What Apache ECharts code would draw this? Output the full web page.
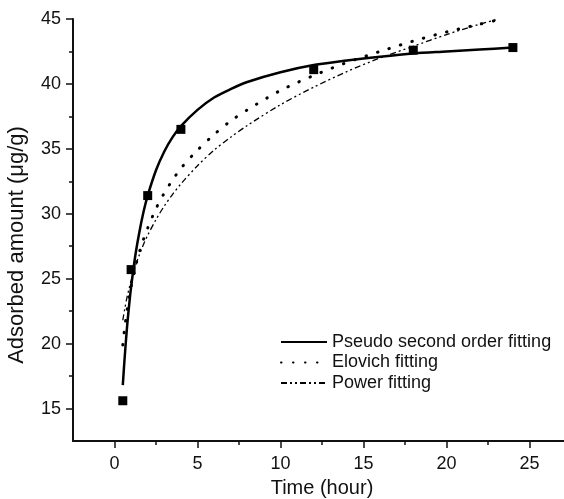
<!DOCTYPE html>
<html>
<head>
<meta charset="utf-8">
<script src="https://cdn.jsdelivr.net/npm/echarts@6/dist/echarts.min.js"></script>
<style>
  html, body { margin: 0; padding: 0; background: #fff; }
  .main { width: 564px; height: 499px; }
</style>
</head>
<body>
<div class="main" id="main"></div>
<script>
// measured points
var timeObs = [0.5, 1, 2, 4, 12, 18, 24];
var qObs = [15.6, 25.7, 31.4, 36.5, 41.1, 42.6, 42.8];

// fitted curves
var psoTime = [0.5, 0.6, 0.75, 0.9, 1, 1.25, 1.5, 1.75, 2, 2.5, 3, 3.5, 4, 5, 6, 7, 8, 10, 12, 14, 16, 18, 20, 22, 24];
var psoFit = [16.8, 18.7, 21.2, 23.2, 24.35, 26.75, 28.6, 30.15, 31.4, 33.35, 34.8, 35.9, 36.75, 38.0, 38.95, 39.6, 40.15, 40.9, 41.45, 41.8, 42.1, 42.35, 42.5, 42.65, 42.8];
var fitTime = [0.5, 0.6, 0.75, 0.9, 1, 1.25, 1.5, 1.75, 2, 2.5, 3, 3.5, 4, 5, 6, 7, 8, 10, 12, 14, 16, 18, 20, 22, 23];
var elovichFit = [19.9, 21.05, 22.5, 23.7, 24.4, 25.85, 27.05, 28.05, 28.9, 30.4, 31.6, 32.6, 33.5, 34.9, 36.1, 37.15, 38.0, 39.5, 40.65, 41.65, 42.5, 43.3, 44.0, 44.6, 44.9];
var powerFit = [21.8, 22.55, 23.55, 24.35, 24.85, 25.95, 26.85, 27.65, 28.35, 29.55, 30.6, 31.5, 32.3, 33.7, 34.9, 35.9, 36.8, 38.4, 39.75, 40.95, 42.0, 42.9, 43.8, 44.6, 44.95];

// ticks
var xTicks = [0, 5, 10, 15, 20, 25];
var xMinor = [2.5, 7.5, 12.5, 17.5, 22.5, 27.5];
var yTicks = [15, 20, 25, 30, 35, 40, 45];
var yMinor = [17.5, 22.5, 27.5, 32.5, 37.5, 42.5];

function pairs(xs, ys) {
  return xs.map(function (x, i) { return [x, ys[i]]; });
}

var font = 'Liberation Sans, Arial, sans-serif';
var myChart = echarts.init(document.getElementById('main'));

var option = {
  animation: false,
  backgroundColor: '#fff',
  grid: { left: 73, right: -7, top: 19, bottom: 58, outerBoundsMode: 'none', containLabel: false },
  legend: {
    data: ['Pseudo second order fitting', 'Elovich fitting', 'Power fitting'],
    orient: 'vertical',
    left: 280,
    top: 333,
    padding: 0,
    itemWidth: 46,
    itemHeight: 14,
    itemGap: 2.5,
    itemStyle: { opacity: 0 },
    textStyle: { fontFamily: font, fontSize: 18, color: '#111', lineHeight: 18 }
  },
  xAxis: [{
    type: 'value',
    min: -2.5,
    max: 27.5,
    name: 'Time (hour)',
    nameLocation: 'middle',
    nameGap: 37,
    nameTextStyle: { fontFamily: font, fontSize: 20, color: '#111' },
    axisLine: { onZero: false, lineStyle: { color: '#111', width: 2 } },
    axisTick: { customValues: xTicks, length: 7, lineStyle: { color: '#111', width: 1.5 } },
    axisLabel: { customValues: xTicks, fontFamily: font, fontSize: 18, color: '#111', margin: 14 },
    splitLine: { show: false }
  }, {
    type: 'value',
    min: -2.5,
    max: 27.5,
    position: 'bottom',
    axisLine: { show: false, onZero: false },
    axisTick: { customValues: xMinor, length: 4, lineStyle: { color: '#111', width: 1.5 } },
    axisLabel: { show: false },
    splitLine: { show: false }
  }],
  yAxis: [{
    type: 'value',
    min: 12.5,
    max: 45,
    name: 'Adsorbed amount (μg/g)',
    nameLocation: 'middle',
    nameGap: 45,
    nameTextStyle: { fontFamily: font, fontSize: 22, color: '#111', padding: [0, 30, 0, 0] },
    axisLine: { show: true, onZero: false, lineStyle: { color: '#111', width: 2 } },
    axisTick: { show: true, customValues: yTicks, length: 7, lineStyle: { color: '#111', width: 1.5 } },
    axisLabel: { customValues: yTicks, fontFamily: font, fontSize: 18, color: '#111', margin: 12 },
    splitLine: { show: false }
  }, {
    type: 'value',
    min: 12.5,
    max: 45,
    position: 'left',
    axisLine: { show: false, onZero: false },
    axisTick: { show: true, customValues: yMinor, length: 4, lineStyle: { color: '#111', width: 1.5 } },
    axisLabel: { show: false },
    splitLine: { show: false }
  }],
  series: [{
    name: 'Pseudo second order fitting',
    type: 'line',
    data: pairs(psoTime, psoFit),
    smooth: 0.3,
    symbol: 'none',
    lineStyle: { color: '#000', width: 2.5 },
    itemStyle: { color: '#000' }
  }, {
    name: 'Elovich fitting',
    type: 'line',
    data: pairs(fitTime, elovichFit),
    smooth: 0.3,
    symbol: 'none',
    lineStyle: { color: '#000', width: 3, type: [0.5, 11.5], cap: 'round' },
    itemStyle: { color: '#000' }
  }, {
    name: 'Power fitting',
    type: 'line',
    data: pairs(fitTime, powerFit),
    smooth: 0.3,
    symbol: 'none',
    lineStyle: { color: '#000', width: 1.3, type: [6, 3, 2, 3, 2, 3] },
    itemStyle: { color: '#000' }
  }, {
    name: 'Data',
    type: 'scatter',
    data: pairs(timeObs, qObs),
    symbol: 'rect',
    symbolSize: 9,
    itemStyle: { color: '#000', opacity: 1 },
    z: 5
  }]
};
myChart.setOption(option);
</script>
</body>
</html>
